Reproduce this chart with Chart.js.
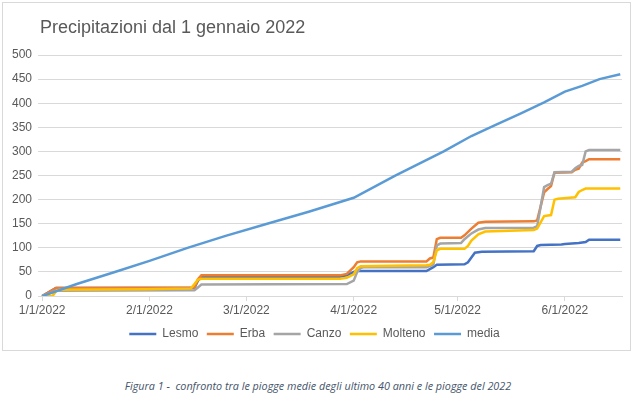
<!DOCTYPE html>
<html>
<head>
<meta charset="utf-8">
<script src="https://cdn.jsdelivr.net/npm/chart.js@4/dist/chart.umd.min.js"></script>
<style>
  body { margin: 0; background: #fff; width: 640px; height: 399px; position: relative; overflow: hidden; }
  #box { position: absolute; left: 2px; top: 2px; width: 627px; height: 347px; border: 1px solid #d9d9d9; }
  #title { position: absolute; left: 40px; top: 17px; font: 18px "Liberation Sans", Arial, sans-serif; color: #595959; }
  #caption { position: absolute; left: 0; width: 636px; top: 378px; text-align: center;
             font: italic 10.8px "Open Sans", "Liberation Sans", sans-serif; color: #44546a; }
</style>
</head>
<body>
<div id="box"><canvas id="chart" width="627" height="347"></canvas></div>
<div id="title">Precipitazioni dal 1 gennaio 2022</div>
<div id="caption">Figura 1 -&nbsp; confronto tra le piogge medie degli ultimo 40 anni e le piogge del 2022</div>
<script>
// giorni dal 1 gennaio 2022 -> tick del mese
const monthDays = [0, 31, 59, 90, 120, 151];
const monthLabels = ['1/1/2022', '2/1/2022', '3/1/2022', '4/1/2022', '5/1/2022', '6/1/2022'];

// precipitazioni cumulate (mm), punti di cambio
const lesmoDays = [0, 4, 44, 45, 46, 86, 88, 90, 91, 111, 112, 113, 114, 122, 123, 125, 127, 142, 143, 144, 150, 151, 155, 157, 158, 167];
const lesmoMm   = [0, 17, 17, 32, 40, 40, 43, 50, 52, 52, 56, 60, 65, 66, 70, 90, 92, 93, 104, 106, 107, 108, 110, 112, 117, 117];

const erbaDays = [0, 4, 44, 45, 46, 86, 88, 90, 91, 92, 111, 112, 113, 114, 115, 121, 122, 124, 126, 128, 142, 143, 145, 146, 147, 148, 153, 154, 155, 156, 157, 158, 167];
const erbaMm   = [0, 17, 18, 35, 43, 43, 46, 60, 70, 72, 72, 78, 80, 118, 121, 121, 126, 140, 152, 154, 155, 157, 215, 222, 228, 256, 257, 262, 264, 277, 280, 284, 284];

const canzoDays = [0, 4, 44, 45, 46, 88, 90, 91, 92, 93, 111, 113, 114, 115, 121, 122, 124, 126, 128, 142, 143, 145, 146, 147, 148, 153, 154, 155, 156, 157, 158, 167];
const canzoMm   = [0, 11, 12, 18, 24, 25, 32, 50, 58, 60, 60, 65, 105, 109, 110, 118, 130, 138, 141, 142, 145, 226, 230, 233, 257, 258, 265, 270, 272, 300, 303, 303];

const moltenoDays = [0, 3, 4, 5, 30, 43, 44, 45, 46, 86, 88, 90, 91, 92, 111, 112, 113, 114, 115, 122, 123, 124, 126, 128, 142, 143, 145, 147, 148, 149, 154, 155, 156, 157, 167];
const moltenoMm   = [0, 0, 10, 13, 14, 16, 25, 34, 36, 36, 38, 45, 58, 62, 64, 65, 70, 95, 98, 98, 104, 115, 128, 134, 137, 140, 166, 168, 200, 202, 205, 216, 220, 223, 223];

const mediaDays = [0, 10, 21, 31, 42, 53, 65, 77, 90, 102, 116, 124, 131, 138, 145, 151, 156, 161, 167];
const mediaMm   = [0, 25, 50, 73, 100, 125, 150, 175, 204, 250, 300, 332, 355, 378, 402, 424, 436, 450, 460];

function pts(days, mm) {
  return days.map((d, i) => ({ x: d, y: mm[i] }));
}

const series = [
  { label: 'Lesmo',   data: pts(lesmoDays, lesmoMm),     color: '#4472c4', order: 5 },
  { label: 'Erba',    data: pts(erbaDays, erbaMm),       color: '#ed7d31', order: 4 },
  { label: 'Canzo',   data: pts(canzoDays, canzoMm),     color: '#a5a5a5', order: 3 },
  { label: 'Molteno', data: pts(moltenoDays, moltenoMm), color: '#ffc000', order: 2 },
  { label: 'media',   data: pts(mediaDays, mediaMm),     color: '#5b9bd5', order: 1 }
];

const txt = '#595959';
const font = { family: '"Liberation Sans", Arial, sans-serif', size: 12 };

new Chart(document.getElementById('chart'), {
  type: 'line',
  data: {
    datasets: series.map(s => ({
      label: s.label, data: s.data, order: s.order,
      borderColor: s.color, backgroundColor: s.color,
      borderWidth: 2.5, pointRadius: 0, tension: 0
    }))
  },
  options: {
    responsive: false, animation: false,
    layout: { padding: { top: 52, right: 8, bottom: 0, left: 4 } },
    plugins: {
      title: { display: false },
      tooltip: { enabled: false },
      legend: {
        position: 'bottom',
        labels: { usePointStyle: true, pointStyle: 'line', pointStyleWidth: 27, boxHeight: 12,
                  padding: 8.5, color: txt, font: font,
                  sort: (a, b) => a.datasetIndex - b.datasetIndex }
      }
    },
    scales: {
      x: {
        type: 'linear', min: -1.2, max: 167.5,
        afterBuildTicks: axis => { axis.ticks = monthDays.map(v => ({ value: v })); },
        ticks: { color: txt, font: font, maxRotation: 0, autoSkip: false, padding: 2,
                 callback: v => monthLabels[monthDays.indexOf(v)] },
        grid: { drawOnChartArea: false, color: '#d9d9d9', tickLength: 5 },
        border: { display: true, color: '#d9d9d9' }
      },
      y: {
        min: 0, max: 500,
        afterFit: axis => { axis.width = 31; },
        ticks: { stepSize: 50, color: txt, font: font, padding: 6 },
        grid: { color: '#d9d9d9', drawTicks: false },
        border: { display: false }
      }
    }
  }
});
</script>
</body>
</html>
